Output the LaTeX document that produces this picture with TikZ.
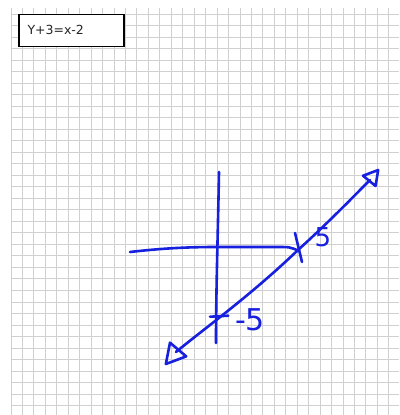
\documentclass[tikz,border=0pt]{standalone}
\usepackage{fontspec}
\setmainfont{DejaVu Sans}
\usetikzlibrary{arrows.meta}
\definecolor{penBlue}{RGB}{22,32,222}
\definecolor{gridGray}{RGB}{208,208,208}

\begin{document}
\begin{tikzpicture}[
    x=1pt, y=-1pt,
    % 方格纸的线
    gridLine/.style={draw=gridGray, line width=1pt},
    % 手写笔迹
    penStyle/.style={draw=penBlue, line width=2.6pt, line cap=round, line join=round},
    lowTip/.tip={Triangle[open, length=23pt, width=25pt, line join=round]},
    highTip/.tip={Triangle[open, length=18pt, width=20pt, line join=round]},
    % 左上角的方程框
    eqnBox/.style={draw=black, fill=white, line width=1.1pt,
        minimum width=105pt, minimum height=32.7pt, text width=88pt,
        align=left, inner xsep=8.5pt, text=black!85,
        font=\fontsize{12.5}{14}\selectfont},
    penLabel/.style={text=penBlue, inner sep=0pt}
]
    \useasboundingbox (0,0) rectangle (399,415);
    \fill[white] (0,0) rectangle (399,415);

    % 网格
    \foreach \i in {0,...,33}
        \draw[gridLine] (11+11.45*\i, 8) -- (11+11.45*\i, 415);
    \foreach \j in {0,...,34}
        \draw[gridLine] (11, 14+11.52*\j) -- (399, 14+11.52*\j);

    % 方程
    \node[eqnBox] (eqn) at (71.5,30.4) {Y+3=x-2};

    % 坐标轴
    \coordinate (yTop) at (219,172);
    \coordinate (yBot) at (216,343);
    \coordinate (xLeft) at (130,252);
    \coordinate (xRight) at (299,251);
    \draw[penStyle] (yTop) .. controls (218,230) and (216,290) .. (yBot);
    \draw[penStyle] (xLeft) .. controls (165,248) and (190,247) .. (217,247)
        -- (277,247) .. controls (290,247) .. (xRight);

    % 截距记号
    \draw[penStyle] (295,233) -- (302,262);
    \draw[penStyle] (210,316.7) -- (228.3,315.7);

    % 直线，两端带箭头
    \coordinate (lineLow) at (165,365);
    \coordinate (lineHigh) at (379,169);
    \draw[penStyle, lowTip-highTip] (lineLow) -- (176,352)
        .. controls (205,328) and (250,296) .. (298,250)
        .. controls (330,221) and (355,195) .. (370,180) -- (lineHigh);

    % 截距的数字
    \node[penLabel, font=\fontsize{30}{30}\selectfont] (lblNeg) at (250,320) {-5};
    \node[penLabel, font=\fontsize{26}{26}\selectfont] (lblPos) at (323,237) {5};
\end{tikzpicture}
\end{document}
